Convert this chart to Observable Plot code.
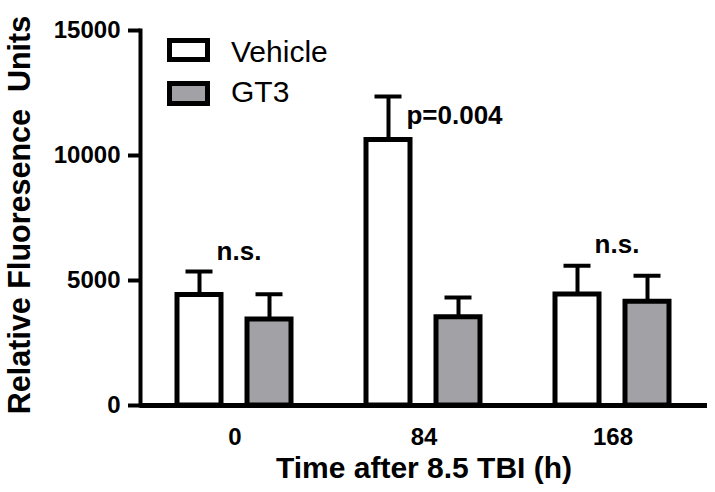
<!DOCTYPE html>
<html><head><meta charset="utf-8">
<script src="https://cdn.jsdelivr.net/npm/d3@7"></script>
<script src="https://cdn.jsdelivr.net/npm/@observablehq/plot@0.6"></script>
<style>
html,body{margin:0;padding:0;background:#fff;}
#chart{position:relative;width:715px;height:492px;}
#legend{position:absolute;left:0;top:0;}
</style></head><body><div id="chart"></div>
<script>
const times = ["0", "84", "168"];
const series = ["Vehicle", "GT3"];
const vehicleMean = [4420, 10620, 4440];
const vehicleSem = [940, 1740, 1150];
const gt3Mean = [3440, 3530, 4150];
const gt3Sem = [1010, 790, 1040];
const seriesColors = ["#ffffff", "#a2a2a6"];
const yTicks = [0, 5000, 10000, 15000];
const annTimes = ["0", "84", "168"];
const annTexts = ["n.s.", "p=0.004", "n.s."];
const annY = [6150, 11600, 6450];
const annSeries = [null, "GT3", null];
const yLabel = "Relative Fluoresence\u00a0 Units";
const xLabel = "Time after 8.5 TBI (h)";

const rows = times.flatMap((t, i) => [
  {time: t, series: series[0], mean: vehicleMean[i], sem: vehicleSem[i]},
  {time: t, series: series[1], mean: gt3Mean[i], sem: gt3Sem[i]}
]);
const ann = annTimes.map((t, i) => ({time: t, text: annTexts[i], y: annY[i], series: annSeries[i]}));
const FONT = "Liberation Sans, Arial, Helvetica, sans-serif";

const chart = Plot.plot({
  width: 715,
  height: 492,
  marginLeft: 140,
  marginRight: 8,
  marginTop: 30,
  marginBottom: 87,
  style: {fontFamily: FONT, background: "#fff", overflow: "visible"},
  fx: {domain: times, padding: 0, axis: null},
  x: {domain: series, paddingInner: 0.37, paddingOuter: 0.535, axis: null},
  y: {domain: [0, 15000], axis: null},
  color: {domain: series, range: seriesColors},
  marks: [
    Plot.ruleX(rows, {fx: "time", x: "series", y1: "mean", y2: d => d.mean + d.sem, stroke: "#000", strokeWidth: 4}),
    Plot.tickY(rows, {fx: "time", x: "series", y: d => d.mean + d.sem, stroke: "#000", strokeWidth: 4, insetLeft: 8.5, insetRight: 8.5}),
    Plot.barY(rows, {fx: "time", x: "series", y: "mean", fill: "series", stroke: "#000", strokeWidth: 5, strokeLinejoin: "miter"}),
    Plot.ruleY([0], {stroke: "#000", strokeWidth: 5}),
    Plot.frame({anchor: "left", stroke: "#000", strokeWidth: 4, facetAnchor: "left"}),
    Plot.axisY({ticks: yTicks, tickFormat: d => String(d), tickSize: 12, tickPadding: 8, strokeWidth: 4, fontSize: 24, fontWeight: "bold", label: null, facetAnchor: "left"}),
    Plot.axisFx({anchor: "bottom", tickSize: 0, tickPadding: 22, fontSize: 24, fontWeight: "bold", label: null}),
    Plot.text(ann.filter(d => !d.series), {fx: "time", y: "y", text: "text", fontSize: 26, fontWeight: "bold", lineAnchor: "middle", dx: 4}),
    Plot.text(ann.filter(d => d.series), {fx: "time", x: "series", y: "y", text: "text", fontSize: 26, fontWeight: "bold", lineAnchor: "middle", dx: -4}),
    Plot.text([{time: times[1], label: xLabel}], {fx: "time", text: "label", frameAnchor: "bottom", textAnchor: "middle", lineAnchor: "middle", dy: 63, fontSize: 30, fontWeight: "bold"}),
    Plot.text([{time: times[0], label: yLabel}], {fx: "time", text: "label", frameAnchor: "left", rotate: -90, textAnchor: "middle", lineAnchor: "middle", dx: -120, dy: -3, fontSize: 30.5, fontWeight: "bold"})
  ]
});
document.getElementById("chart").appendChild(chart);

// legend overlay
const leg = d3.select("#chart").append("svg").attr("id", "legend").attr("width", 715).attr("height", 130)
  .style("font-family", FONT);
const legendBoxes = [{y: 40.5, h: 19, base: 62}, {y: 83.5, h: 20, base: 102}];
series.forEach((s, i) => {
  leg.append("rect").attr("x", 169.5).attr("y", legendBoxes[i].y).attr("width", 38).attr("height", legendBoxes[i].h)
    .attr("fill", seriesColors[i]).attr("stroke", "#000").attr("stroke-width", 5);
  leg.append("text").attr("x", 231).attr("y", legendBoxes[i].base).attr("font-size", 30).attr("fill", "#000").text(s);
});
</script></body></html>
